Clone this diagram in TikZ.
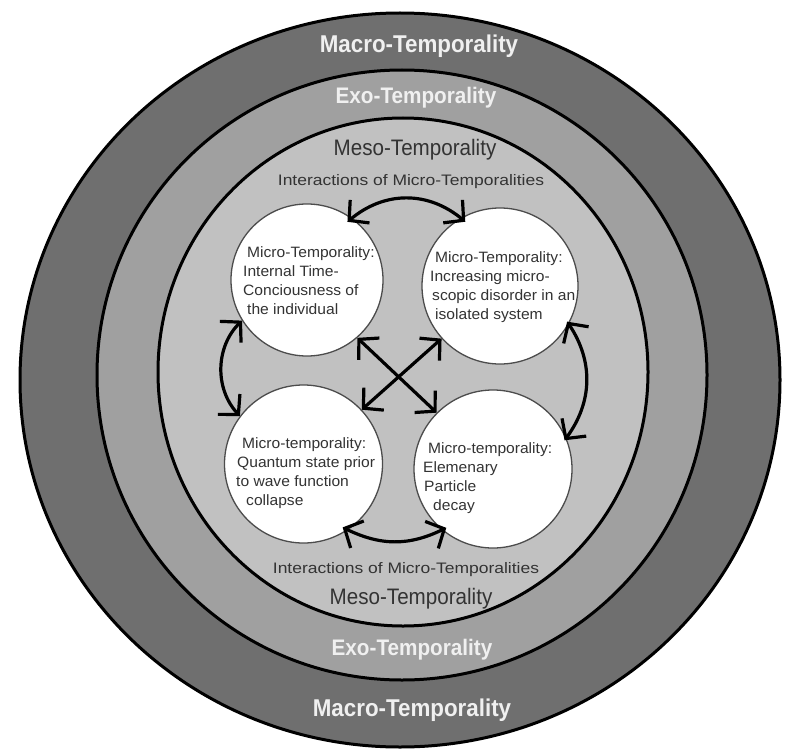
\documentclass[tikz,border=0pt]{standalone}
\usepackage{fontspec}
\setmainfont{Liberation Sans}
\newfontfamily\headfont[FakeStretch=0.92]{Liberation Sans}
\newfontfamily\widefont[FakeStretch=1.15]{Liberation Sans}
\newfontfamily\bodyfont[FakeStretch=1.04]{Liberation Sans}
\usetikzlibrary{arrows.meta}

\definecolor{macrogray}{HTML}{6F6F6F}
\definecolor{exogray}{HTML}{A0A0A0}
\definecolor{mesogray}{HTML}{C1C1C1}
\definecolor{inkgray}{HTML}{333333}

\begin{document}
\begin{tikzpicture}[x=1pt, y=-1pt,
  ring/.style={draw=black, line width=3pt},
  micro/.style={circle, draw=black!70, line width=1.3pt, fill=white, inner sep=0pt},
  microtext/.style={anchor=north west, align=left, inner sep=0pt,
    font=\bodyfont\fontsize{15}{19}\selectfont, text=inkgray},
  outerlabel/.style={anchor=base, inner sep=0pt, text=white!94!black,
    font=\headfont\bfseries\fontsize{24.3}{28}\selectfont},
  exolabel/.style={anchor=base, inner sep=0pt, text=white!94!black,
    font=\headfont\bfseries\fontsize{22.5}{26}\selectfont},
  mesolabel/.style={anchor=base, inner sep=0pt, text=inkgray,
    font=\headfont\fontsize{22.4}{26}\selectfont},
  interlabel/.style={anchor=base, inner sep=0pt, text=inkgray,
    font=\widefont\fontsize{15.2}{18}\selectfont},
  link/.style={line width=3.2pt, black,
    {Straight Barb[length=14pt,width=30pt]}-{Straight Barb[length=14pt,width=30pt]}},
]
\useasboundingbox (0,0) rectangle (792,749);
\fill[white] (0,0) rectangle (792,749);

% nested temporal layers
\draw[ring, fill=macrogray] (400,380) ellipse [x radius=380, y radius=367];
\draw[ring, fill=exogray] (402,375) circle [radius=305];
\draw[ring, fill=mesogray] (403,372) ellipse [x radius=245, y radius=254];

% layer names
\node[outerlabel] (macrotop) at (419,53) {Macro-Temporality};
\node[exolabel] (exotop) at (416,104) {Exo-Temporality};
\node[mesolabel] (mesotop) at (415,155.5) {Meso-Temporality};
\node[interlabel] (intertop) at (411,185.5) {Interactions of Micro-Temporalities};
\node[interlabel] (interbot) at (406,573.5) {Interactions of Micro-Temporalities};
\node[mesolabel] (mesobot) at (411,604.5) {Meso-Temporality};
\node[exolabel] (exobot) at (412,655) {Exo-Temporality};
\node[outerlabel] (macrobot) at (412,716) {Macro-Temporality};

% micro-temporalities
\node[micro, minimum size=152pt] (tl) at (307,280) {};
\node[micro, minimum size=156pt] (tr) at (500,286) {};
\node[micro, minimum size=158pt] (bl) at (303.5,464) {};
\node[micro, minimum size=158pt] (br) at (493,469) {};

\node[microtext] (tltext) at (243,245.5)
  {\rule{0pt}{12pt}\hspace{4pt}Micro-Temporality:\\Internal Time-\\Conciousness of\\\hspace{4pt}the individual};
\node[microtext] (trtext) at (430,250.5)
  {\rule{0pt}{12pt}\hspace{5pt}Micro-Temporality:\\Increasing micro-\\\hspace{2pt}scopic disorder in an\\\hspace{5pt}isolated system};
\node[microtext] (bltext) at (236,436.5)
  {\rule{0pt}{12pt}\hspace{6pt}Micro-temporality:\\\hspace{1pt}Quantum state prior\\to wave function\\\hspace{10pt}collapse};
\node[microtext] (brtext) at (423,441.5)
  {\rule{0pt}{12pt}\hspace{5pt}Micro-temporality:\\Elemenary\\\hspace{1pt}Particle\\\hspace{10pt}decay};

% interactions between the micro-temporalities
\draw[link, shorten <=-6pt, shorten >=-6pt] (tl.54) to[bend left=40] (tr.120);
\draw[link, shorten <=-6pt, shorten >=-5pt] (bl.-56) to[bend right=26] (br.-130);
\draw[link] (tl.-148) to[bend right=44] (bl.143);
\draw[link, shorten <=-3pt, shorten >=-3pt] (tr.-29) to[bend left=35] (br.23);
\draw[link] (tl.-49) -- (br.135);
\draw[link] (tr.-138) -- (bl.43);
\end{tikzpicture}
\end{document}
